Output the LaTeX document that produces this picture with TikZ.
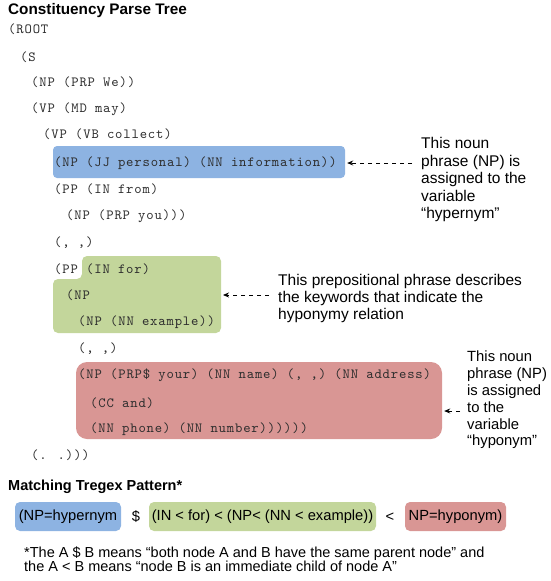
\documentclass[tikz,border=0pt]{standalone}
\usepackage{fontspec}
\setmainfont{Liberation Sans}
\newfontfamily\treefont[LetterSpace=6]{lmmono10-regular.otf}
\usetikzlibrary{arrows.meta}

\definecolor{hyperblue}{RGB}{141,179,226}
\definecolor{prepgreen}{RGB}{195,214,155}
\definecolor{hypored}{RGB}{217,150,148}
\definecolor{treeink}{RGB}{45,45,45}

\begin{document}
\begin{tikzpicture}[x=1pt,y=-1pt,
  tree/.style={anchor=base west, inner sep=0pt, text=treeink,
    font=\treefont\fontsize{14}{14}\selectfont},
  heading/.style={anchor=base west, inner sep=0pt,
    font=\bfseries\fontsize{15}{15}\selectfont},
  note/.style={anchor=north west, inner sep=0pt, align=left},
  highlight/.style={inner sep=0pt},
  pill/.style={inner sep=0pt, rounded corners=5pt, minimum height=29,
    font=\fontsize{14.7}{15}\selectfont},
  op/.style={inner sep=0pt, font=\fontsize{14.7}{15}\selectfont},
  pointer/.style={dashed, dash pattern=on 4.5pt off 3.5pt, line width=0.8pt,
    -{Stealth[length=6pt,width=5pt]}, shorten >=2pt},
]
\useasboundingbox (0,0) rectangle (550,581);

% ---- highlighted sub-trees (drawn first, behind the bracketed text)
\node[highlight, fill=hyperblue, rounded corners=4pt,
      minimum width=292, minimum height=32] (hyperbox) at (199,162) {};
\path[fill=prepgreen, rounded corners=5pt]
  (82,256) -- (221,256) -- (221,333) -- (53,333) -- (53,279) -- (82,279) -- cycle;
\coordinate (ppedge) at (221,295);
\node[highlight, fill=hypored, rounded corners=11pt,
      minimum width=366, minimum height=77] (hypobox) at (259,400.5) {};

% ---- heading
\node[heading, font=\bfseries\fontsize{15.3}{15}\selectfont] (title) at (8,14) {Constituency Parse Tree};

% ---- bracketed parse tree
\node[tree] (t01) at (8,33.5)   {(ROOT};
\node[tree] (t02) at (20,61.5)  {(S};
\node[tree] (t03) at (31,86.5)  {(NP (PRP We))};
\node[tree] (t04) at (31,112.5) {(VP (MD may)};
\node[tree] (t05) at (43,138.5) {(VP (VB collect)};
\node[tree] (t06) at (54,166.5) {(NP (JJ personal) (NN information))};
\node[tree] (t07) at (54,193.5) {(PP (IN from)};
\node[tree] (t08) at (66,219.5) {(NP (PRP you)))};
\node[tree] (t09) at (54,246.5) {(, ,)};
\node[tree] (t10) at (54,273.5) {(PP (IN for)};
\node[tree] (t11) at (66,299.5) {(NP};
\node[tree] (t12) at (78,325.5) {(NP (NN example))};
\node[tree] (t13) at (78,352.5) {(, ,)};
\node[tree] (t14) at (78,378.5) {(NP (PRP\$ your) (NN name) (, ,) (NN address)};
\node[tree] (t15) at (90,407.5) {(CC and)};
\node[tree] (t16) at (90,432.5) {(NN phone) (NN number))))))};
\node[tree] (t17) at (31,459.5) {(. .)))};

% ---- explanations
\node[note, font=\fontsize{15.5}{17.5}\selectfont] (hypernote) at (421,137.5)
  {This noun\\phrase (NP) is\\assigned to the\\variable\\“hypernym”};
\node[note, font=\fontsize{15.5}{17}\selectfont] (prepnote) at (278,274.5)
  {This prepositional phrase describes\\the keywords that indicate the\\hyponymy relation};
\node[note, font=\fontsize{14.8}{16.8}\selectfont] (hyponote) at (467,351)
  {This noun\\phrase (NP)\\is assigned\\to the\\variable\\“hyponym”};

\coordinate (tail1) at (412,163);
\coordinate (tail2) at (269,295);
\coordinate (tail3) at (460,411);
\draw[pointer] (tail1) -- (tail1 -| hyperbox.east);
\draw[pointer] (tail2) -- (ppedge);
\draw[pointer] (tail3) -- (tail3 -| hypobox.east);

% ---- Tregex pattern
\node[heading, font=\bfseries\fontsize{14.5}{15}\selectfont] (pattitle) at (8,490.5) {Matching Tregex Pattern*};
\node[pill, fill=hyperblue, minimum width=106] (pblue) at (68,516.5) {(NP=hypernym};
\node[op] (sib) at (136,517) {\$};
\node[pill, fill=prepgreen, minimum width=227] (pgreen) at (262.5,516.5) {(IN < for) < (NP< (NN < example))};
\node[op] (child) at (390,517) {<};
\node[pill, fill=hypored, minimum width=101] (pred) at (455.5,516.5) {NP=hyponym)};

\node[note, font=\fontsize{14.5}{14}\selectfont] (footnote) at (24,547)
  {*The A \$ B means “both node A and B have the same parent node” and\\
   the A < B means “node B is an immediate child of node A”};
\end{tikzpicture}
\end{document}
